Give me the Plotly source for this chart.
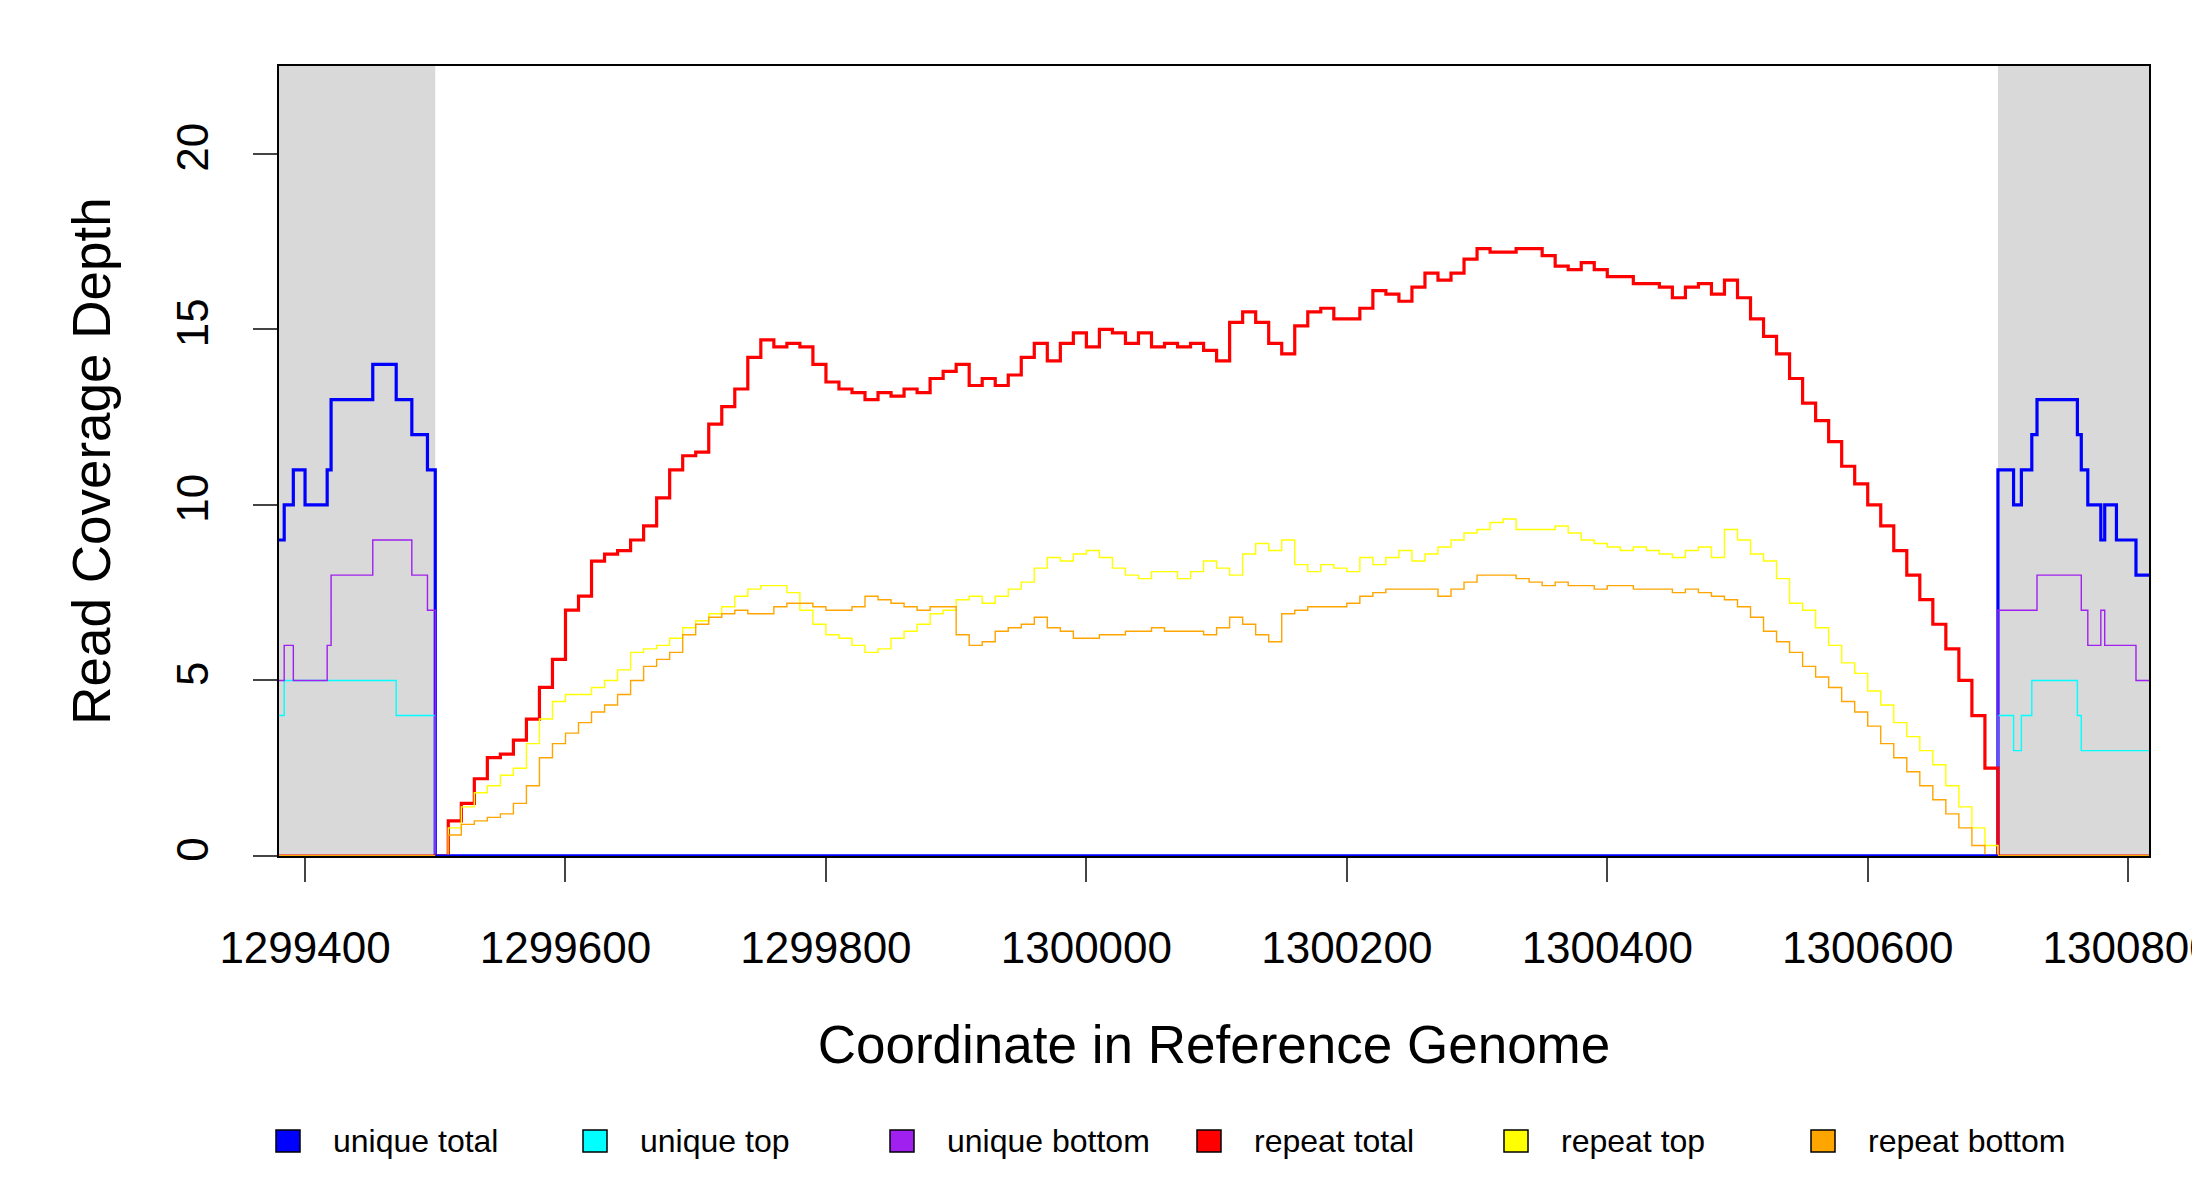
import plotly.graph_objects as go

# repeat region sampled every 10 bp from 1299500 to 1300700
rep_start, rep_end, rep_step = 1299500, 1300700, 10
repeat_total = [
    0, 1.0, 1.5, 2.2, 2.8, 2.9, 3.3, 3.9, 4.8, 5.6, 7.0, 7.4, 8.4, 8.6, 8.7, 9.0, 9.4, 10.2, 11.0, 11.4,
    11.5, 12.3, 12.8, 13.3, 14.2, 14.7, 14.5, 14.6, 14.5, 14.0, 13.5, 13.3, 13.2, 13.0, 13.2, 13.1, 13.3, 13.2, 13.6, 13.8,
    14.0, 13.4, 13.6, 13.4, 13.7, 14.2, 14.6, 14.1, 14.6, 14.9, 14.5, 15.0, 14.9, 14.6, 14.9, 14.5, 14.6, 14.5, 14.6, 14.4,
    14.1, 15.2, 15.5, 15.2, 14.6, 14.3, 15.1, 15.5, 15.6, 15.3, 15.3, 15.6, 16.1, 16.0, 15.8, 16.2, 16.6, 16.4, 16.6, 17.0,
    17.3, 17.2, 17.2, 17.3, 17.3, 17.1, 16.8, 16.7, 16.9, 16.7, 16.5, 16.5, 16.3, 16.3, 16.2, 15.9, 16.2, 16.3, 16.0, 16.4,
    15.9, 15.3, 14.8, 14.3, 13.6, 12.9, 12.4, 11.8, 11.1, 10.6, 10.0, 9.4, 8.7, 8.0, 7.3, 6.6, 5.9, 5.0, 4.0, 2.5, 0,
]
repeat_top = [
    0, 0.8, 1.4, 1.8, 2.0, 2.3, 2.5, 3.2, 3.9, 4.4, 4.6, 4.6, 4.8, 5.0, 5.3, 5.8, 5.9, 6.0, 6.2, 6.5,
    6.7, 6.9, 7.1, 7.4, 7.6, 7.7, 7.7, 7.5, 7.0, 6.6, 6.3, 6.2, 6.0, 5.8, 5.9, 6.2, 6.4, 6.6, 6.9, 7.0,
    7.3, 7.4, 7.2, 7.4, 7.6, 7.8, 8.2, 8.5, 8.4, 8.6, 8.7, 8.5, 8.2, 8.0, 7.9, 8.1, 8.1, 7.9, 8.1, 8.4,
    8.2, 8.0, 8.6, 8.9, 8.7, 9.0, 8.3, 8.1, 8.3, 8.2, 8.1, 8.5, 8.3, 8.5, 8.7, 8.4, 8.6, 8.8, 9.0, 9.2,
    9.3, 9.5, 9.6, 9.3, 9.3, 9.3, 9.4, 9.2, 9.0, 8.9, 8.8, 8.7, 8.8, 8.7, 8.6, 8.5, 8.7, 8.8, 8.5, 9.3,
    9.0, 8.6, 8.4, 7.9, 7.2, 7.0, 6.5, 6.0, 5.5, 5.2, 4.7, 4.3, 3.8, 3.4, 3.0, 2.6, 2.0, 1.4, 0.8, 0.3, 0,
]
repeat_bottom = [
    0, 0.6, 0.9, 1.0, 1.1, 1.2, 1.5, 2.0, 2.8, 3.2, 3.5, 3.8, 4.1, 4.3, 4.6, 5.0, 5.4, 5.6, 5.8, 6.3,
    6.6, 6.8, 6.9, 7.0, 6.9, 6.9, 7.1, 7.2, 7.2, 7.1, 7.0, 7.0, 7.1, 7.4, 7.3, 7.2, 7.1, 7.0, 7.1, 7.1,
    6.3, 6.0, 6.1, 6.4, 6.5, 6.6, 6.8, 6.5, 6.4, 6.2, 6.2, 6.3, 6.3, 6.4, 6.4, 6.5, 6.4, 6.4, 6.4, 6.3,
    6.5, 6.8, 6.6, 6.3, 6.1, 6.9, 7.0, 7.1, 7.1, 7.1, 7.2, 7.4, 7.5, 7.6, 7.6, 7.6, 7.6, 7.4, 7.6, 7.8,
    8.0, 8.0, 8.0, 7.9, 7.8, 7.7, 7.8, 7.7, 7.7, 7.6, 7.7, 7.7, 7.6, 7.6, 7.6, 7.5, 7.6, 7.5, 7.4, 7.3,
    7.1, 6.8, 6.4, 6.1, 5.8, 5.4, 5.1, 4.8, 4.4, 4.1, 3.7, 3.2, 2.8, 2.4, 2.0, 1.6, 1.2, 0.8, 0.3, 0, 0,
]
rep_x = list(range(rep_start, rep_end + 1, rep_step))

# unique flanks (step changes)
left_x = [1299380, 1299384, 1299391, 1299400, 1299417, 1299420, 1299452, 1299470, 1299482, 1299494, 1299500]
left_total = [9, 10, 11, 10, 11, 13, 14, 13, 12, 11, 0]
left_top = [4, 5, 5, 5, 5, 5, 5, 4, 4, 4, 0]
left_bottom = [5, 6, 5, 5, 6, 8, 9, 9, 8, 7, 0]
right_x = [1300700, 1300712, 1300718, 1300726, 1300730, 1300761, 1300764, 1300769, 1300779, 1300782, 1300791, 1300806, 1300816]
right_total = [11, 10, 11, 12, 13, 12, 11, 10, 9, 10, 9, 8, 8]
right_top = [4, 3, 4, 5, 5, 4, 3, 3, 3, 3, 3, 3, 3]
right_bottom = [7, 7, 7, 7, 8, 8, 7, 6, 7, 6, 6, 5, 5]

x_min, x_max = 1299380, 1300816
x_ticks = [1299400, 1299600, 1299800, 1300000, 1300200, 1300400, 1300600, 1300800]

W, H = 2200, 1200
ml, mr, mt, mb = 271, 59, 58, 352
pw, ph = W - ml - mr, H - mt - mb

fig = go.Figure()

for x0, x1 in [(x_min, rep_start), (rep_end, x_max)]:
    fig.add_shape(type='rect', x0=x0, x1=x1, y0=0, y1=1, yref='paper',
                  fillcolor='#d9d9d9', line_width=0, layer='below')

ux = left_x + [rep_end] + right_x
series = [
    ('unique total', ux, left_total + [0] + right_total, 'blue', 3.2),
    ('unique top', ux, left_top + [0] + right_top, 'cyan', 1.4),
    ('unique bottom', ux, left_bottom + [0] + right_bottom, '#a020f0', 1.4),
    ('repeat total', [x_min] + rep_x + [x_max], [0] + repeat_total + [0], 'red', 3.2),
    ('repeat top', [x_min] + rep_x + [x_max], [0] + repeat_top + [0], 'yellow', 1.4),
    ('repeat bottom', [x_min] + rep_x + [x_max], [0] + repeat_bottom + [0], 'orange', 1.4),
]
for name, xs, ys, color, w in series:
    fig.add_trace(go.Scatter(x=xs, y=ys, mode='lines', line=dict(color=color, width=w, shape='hv'),
                             name=name, showlegend=False, hoverinfo='skip'))
# centre baseline of unique total on top
fig.add_trace(go.Scatter(x=[rep_start, rep_end], y=[0, 0], mode='lines',
                         line=dict(color='blue', width=3), showlegend=False))

# manual legend (pixel positions converted to paper coords)
leg_cy = 1133
for i, (name, xs, ys, color, w) in enumerate(series):
    sx = 268 + i * 307
    fig.add_shape(type='rect', xref='paper', yref='paper',
                  x0=(sx - ml) / pw, x1=(sx + 24 - ml) / pw,
                  y0=(H - mb - leg_cy - 11) / ph, y1=(H - mb - leg_cy + 11) / ph,
                  fillcolor=color, line=dict(color='black', width=1.5))
    fig.add_annotation(text=name, xref='paper', yref='paper', showarrow=False,
                       x=(sx + 55 - ml) / pw, y=(H - mb - leg_cy) / ph,
                       xanchor='left', yanchor='middle', font=dict(size=32))

fig.update_layout(
    width=W, height=H,
    margin=dict(l=ml, r=mr, t=mt, b=mb),
    plot_bgcolor='white', paper_bgcolor='white',
    font=dict(family='Liberation Sans, Arial', size=44, color='black'),
    showlegend=False,
    xaxis=dict(range=[x_min, x_max], tickvals=x_ticks, ticktext=[str(t) for t in x_ticks],
               showgrid=False, zeroline=False, showline=True, mirror=True, linecolor='black',
               linewidth=1.5, ticks='outside', ticklen=24, tickwidth=1.5, ticklabelstandoff=28,
               ticklabeloverflow='allow', automargin=False,
               title=dict(text='Coordinate in Reference Genome', standoff=55)),
    yaxis=dict(range=[0, 22.5], tickvals=[0, 5, 10, 15, 20], tickangle=-90,
               showgrid=False, zeroline=False, showline=True, mirror=True, linecolor='black',
               linewidth=1.5, ticks='outside', ticklen=24, tickwidth=1.5, ticklabelstandoff=28,
               automargin=False,
               title=dict(text='Read Coverage Depth', standoff=40)),
)

fig.write_html("out.html")
